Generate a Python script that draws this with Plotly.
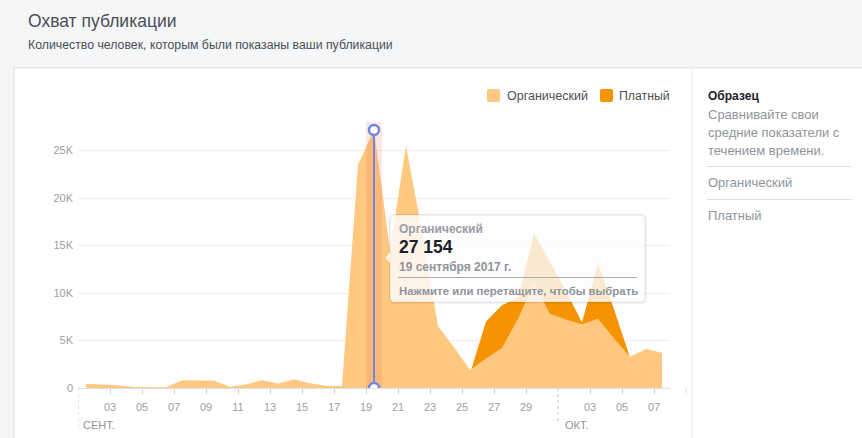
import pandas as pd
import plotly.graph_objects as go

# ---------------- data ----------------
dates = pd.date_range("2017-09-01", "2017-10-07", freq="D")
organic = [450, 350, 280, 100, 70, 70, 820, 800, 760, 120, 380, 820, 480, 900, 500, 245, 200,
           23500, 27154, 14500, 25500, 16500, 6500, 4300, 1900, 3100, 4200, 7300, 11000,
           7800, 7200, 6700, 7300, 5200, 3300, 4100, 3700]
paid = [0] * 24 + [1500, 7000, 8700, 9500, 16300, 13300, 10200, 6900, 13100, 8300, 3200, 2000, 1500]
x_ticks = list(pd.date_range("2017-09-03", "2017-09-29", freq="2D")) + \
    [pd.Timestamp("2017-10-03"), pd.Timestamp("2017-10-05"), pd.Timestamp("2017-10-07")]
x_ticktext = [d.strftime("%d") for d in x_ticks]
y_ticks = [0, 5000, 10000, 15000, 20000, 25000]
y_ticktext = ["0", "5K", "10K", "15K", "20K", "25K"]
series_names = ["Органический", "Платный"]
selected_index = 18  # 19 Sept

Y_MAX = 28000
x_pos = dates + pd.Timedelta(hours=12)

# ---------------- styling ----------------
FONT = "Liberation Sans, Arial, sans-serif"
C_ORG = "#ffc880"
C_PAID = "#f59300"
C_GRAY = "#90949c"
C_DARK = "#4b4f56"
C_BLUE = "#6f88e2"

W, H = 862, 438
L, R, T, B = 78, 670, 122, 388
PW, PH = R - L, B - T


def px(x):
    return (x - L) / PW


def py(y):
    return (B - y) / PH


def rrect(x0, y0, x1, y1, r):
    rx, ry = r / PW, r / PH
    a, b, c, d = px(x0), py(y0), px(x1), py(y1)
    return (f"M {a+rx},{b} L {c-rx},{b} Q {c},{b} {c},{b-ry} L {c},{d+ry} Q {c},{d} {c-rx},{d} "
            f"L {a+rx},{d} Q {a},{d} {a},{d+ry} L {a},{b-ry} Q {a},{b} {a+rx},{b} Z")


fig = go.Figure()

fig.add_trace(go.Scatter(x=x_pos, y=paid, mode="lines", line=dict(width=0, color=C_PAID),
                         fill="tozeroy", fillcolor=C_PAID, name=series_names[1],
                         hoverinfo="skip", showlegend=False))
fig.add_trace(go.Scatter(x=x_pos, y=organic, mode="lines", line=dict(width=0, color=C_ORG),
                         fill="tozeroy", fillcolor=C_ORG, name=series_names[0],
                         hoverinfo="skip", showlegend=False))

# highlighted day band
d0 = dates[selected_index]
d1 = d0 + pd.Timedelta(days=1)
fig.add_trace(go.Scatter(x=[d0, d1, d1, d0, d0], y=[0, 0, Y_MAX, Y_MAX, 0], mode="lines",
                         line=dict(width=0), fill="toself", fillcolor="rgba(240,95,70,0.15)",
                         hoverinfo="skip", showlegend=False))
# selection line
sx = x_pos[selected_index]
fig.add_trace(go.Scatter(x=[sx, sx], y=[0, organic[selected_index]], mode="lines+markers",
                         line=dict(color=C_BLUE, width=2),
                         marker=dict(size=10, color="white", line=dict(color=C_BLUE, width=2.5)),
                         hoverinfo="skip", showlegend=False))

shapes = []
shapes.append(dict(type="rect", xref="paper", yref="paper", x0=px(14), x1=px(862), y0=py(68), y1=py(438),
                   fillcolor="white", line=dict(width=0), layer="below"))
shapes.append(dict(type="line", xref="paper", yref="paper", x0=px(14), x1=px(862), y0=py(68), y1=py(68),
                   line=dict(color="#dddfe2", width=1), layer="below"))
shapes.append(dict(type="line", xref="paper", yref="paper", x0=px(14), x1=px(14), y0=py(68), y1=py(438),
                   line=dict(color="#dddfe2", width=1), layer="below"))
shapes.append(dict(type="line", xref="paper", yref="paper", x0=px(692), x1=px(692), y0=py(69), y1=py(438),
                   line=dict(color="#e9ebee", width=1), layer="below"))
shapes.append(dict(type="line", xref="paper", yref="paper", x0=px(707), x1=px(852), y0=py(166.5), y1=py(166.5),
                   line=dict(color="#dddfe2", width=1), layer="below"))
shapes.append(dict(type="line", xref="paper", yref="paper", x0=px(707), x1=px(852), y0=py(199.5), y1=py(199.5),
                   line=dict(color="#dddfe2", width=1), layer="below"))
# month dotted lines
shapes.append(dict(type="line", xref="x", yref="paper", x0=dates[0], x1=dates[0], y0=0, y1=py(428),
                   line=dict(color="#c4c8ce", width=1, dash="dot")))
shapes.append(dict(type="line", xref="x", yref="paper", x0="2017-10-01", x1="2017-10-01", y0=0, y1=py(421),
                   line=dict(color="#c4c8ce", width=1, dash="dot")))
shapes.append(dict(type="line", xref="paper", yref="paper", x0=px(686), x1=px(686), y0=py(388), y1=py(393),
                   line=dict(color="#d5d8dc", width=1)))
# legend swatches
shapes.append(dict(type="path", xref="paper", yref="paper", path=rrect(487, 89, 500, 102, 2),
                   fillcolor=C_ORG, line=dict(width=0)))
shapes.append(dict(type="path", xref="paper", yref="paper", path=rrect(600, 89, 613, 102, 2),
                   fillcolor=C_PAID, line=dict(width=0)))
# tooltip
shapes.append(dict(type="path", xref="paper", yref="paper", path=rrect(389, 214, 647, 304, 5),
                   fillcolor="rgba(0,0,0,0.05)", line=dict(width=0)))
shapes.append(dict(type="path", xref="paper", yref="paper", path=rrect(390, 215, 645, 302, 4),
                   fillcolor="rgba(255,255,255,0.82)", line=dict(color="rgba(0,0,0,0.08)", width=1)))
shapes.append(dict(type="path", xref="paper", yref="paper",
                   path=f"M {px(390)},{py(252)} L {px(385.5)},{py(257.5)} L {px(390)},{py(263)} Z",
                   fillcolor="rgba(255,255,255,0.85)", line=dict(width=0)))
shapes.append(dict(type="line", xref="paper", yref="paper", x0=px(398), x1=px(637), y0=py(277.5), y1=py(277.5),
                   line=dict(color="#a8acb3", width=1.2)))

ann = []


def text(x, y, s, size, color, bold=False, anchor="left"):
    ann.append(dict(xref="paper", yref="paper", x=px(x), y=py(y), text=f"<b>{s}</b>" if bold else s,
                    showarrow=False, xanchor=anchor, yanchor="middle",
                    font=dict(family=FONT, size=size, color=color)))


text(26, 21, "Охват публикации", 17.5, C_DARK)
text(26, 45, "Количество человек, которым были показаны ваши публикации", 12.3, C_DARK)
# legend
text(505, 95.5, series_names[0], 12.5, C_DARK)
text(617, 95.5, series_names[1], 12.3, C_DARK)
# right panel
text(706, 96, "Образец", 12, "#1d2129", bold=True)
text(706, 114, "Сравнивайте свои", 13, C_GRAY)
text(706, 132, "средние показатели с", 13, C_GRAY)
text(706, 150, "течением времени.", 13, C_GRAY)
text(706, 182, series_names[0], 13, C_GRAY)
text(706, 215, series_names[1], 13, C_GRAY)
# tooltip text
text(397, 228.5, series_names[0], 12, "#9a9ea6", bold=True)
text(397, 246.5, f"{organic[selected_index]:,}".replace(",", " "), 17.5, "#1d2129", bold=True)
text(397, 267, "19 сентября 2017 г.", 12, C_GRAY, bold=True)
text(397, 291, "Нажмите или перетащите, чтобы выбрать", 11.4, C_GRAY, bold=True)
# month labels
ann.append(dict(xref="x", yref="paper", x=dates[0], y=py(425), text="СЕНТ.", showarrow=False,
                xanchor="left", yanchor="middle", xshift=3, font=dict(family=FONT, size=11, color=C_GRAY)))
ann.append(dict(xref="x", yref="paper", x="2017-10-01", y=py(425), text="ОКТ.", showarrow=False,
                xanchor="left", yanchor="middle", xshift=5, font=dict(family=FONT, size=11, color=C_GRAY)))

fig.update_layout(
    width=W, height=H, margin=dict(l=L, r=W - R, t=T, b=H - B, pad=0),
    paper_bgcolor="#f5f6f8", plot_bgcolor="white",
    font=dict(family=FONT, size=11, color=C_GRAY),
    showlegend=False, shapes=shapes, annotations=ann,
    xaxis=dict(type="date", range=[dates[0], dates[-1] + pd.Timedelta(days=1)],
               tickvals=x_ticks, ticktext=x_ticktext, ticks="outside", ticklen=5,
               tickcolor="#ccd0d5", showline=True, linecolor="#dddfe2", linewidth=1,
               showgrid=False, zeroline=False, ticklabelstandoff=4,
               tickfont=dict(family=FONT, size=11, color="#9ba0a8"), fixedrange=True),
    yaxis=dict(range=[0, Y_MAX], tickvals=y_ticks, ticktext=y_ticktext, showgrid=True,
               gridcolor="#ebedf0", zeroline=False, showline=False, ticks="",
               ticklabelstandoff=4, tickfont=dict(family=FONT, size=11, color="#9ba0a8"), fixedrange=True),
)

fig.write_html("out.html", config={"displayModeBar": False},
               post_script="document.body.style.margin='0';document.body.style.overflow='hidden';")
